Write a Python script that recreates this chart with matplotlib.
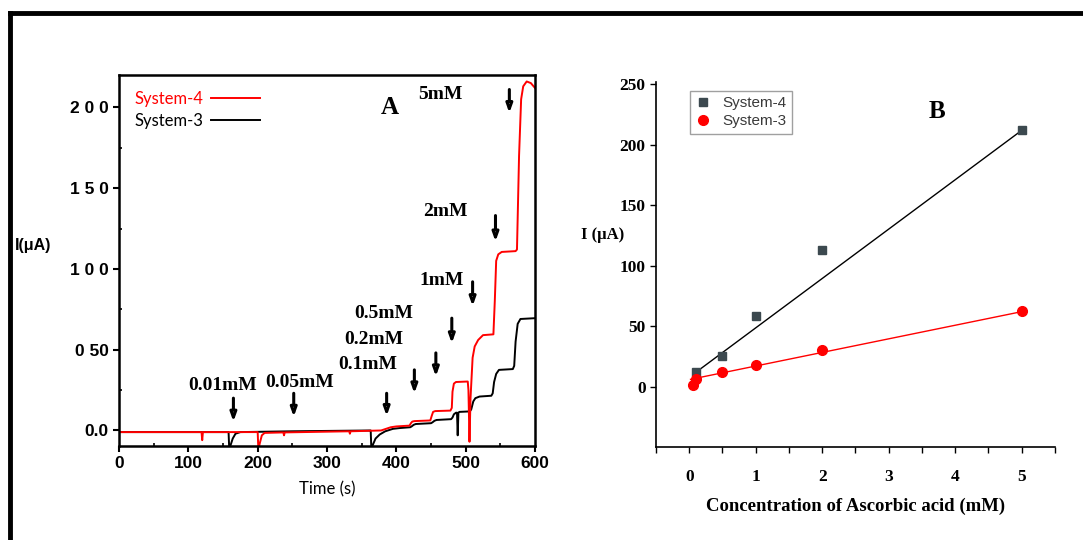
"""Amperometric response (A) and calibration plot (B) for System-3 / System-4."""
import matplotlib
matplotlib.use("Agg")
import matplotlib.pyplot as plt
from matplotlib.lines import Line2D
from matplotlib.ticker import MultipleLocator

# ---- panel A: current-time traces ----
red_t = [0, 119, 120, 121, 123, 200, 201, 203, 206, 210, 237, 238, 239, 332, 333, 334,
         378, 385, 392, 400, 419, 421, 423, 426, 449, 451, 453, 456, 478, 480, 481, 483,
         486, 503, 504, 505.5, 507, 510, 513, 518, 525, 540, 542, 544, 547, 552, 572,
         574, 577, 580, 583, 588, 594, 600]
red_i = [-1, -1, -6, -1, -1, -1, -12, -8, -3, -1.5, -1.2, -3, -1.2, -0.5, -2, -0.5,
         0, 1, 2, 2.5, 3, 4.5, 5.5, 5.8, 6.2, 9, 11.5, 12, 12.3, 14, 24, 29,
         30, 30.3, 25, -7, 20, 45, 52, 56, 59, 59.5, 80, 105, 109, 110.5, 111,
         112, 170, 205, 213, 216, 215, 212]

black_t = [0, 158, 159, 161, 164, 168, 175, 250, 362, 363, 364, 366, 370, 376, 384, 395,
           405, 420, 422, 425, 428, 450, 452, 455, 458, 479, 481, 483, 486, 487.5, 488.5,
           489.5, 491, 506, 508, 511, 514, 520, 537, 539, 541, 544, 548, 568, 570, 572,
           575, 579, 600]
black_i = [-1, -1, -12, -9, -5, -2, -1, -0.5, 0, 0, -12, -9, -5, -2.5, -0.5, 1,
           1.5, 2, 2.5, 3.5, 4, 4.5, 5, 6, 6.5, 7, 8, 10, 11, 11, -3,
           11, 11.5, 11.8, 13, 18, 20, 21, 21.5, 23, 30, 35, 37.5, 38, 40, 55,
           66, 69, 69.5]

# additions: label text, label position, arrow position
add_labels = ["0.01mM", "0.05mM", "0.1mM", "0.2mM", "0.5mM", "1mM", "2mM", "5mM"]
label_t = [150, 260, 359, 367, 382, 466, 471, 464]
label_i = [27.7, 29.7, 40.7, 56, 72.7, 92.9, 135.6, 207.8]
arrow_t = [165, 252, 386, 426, 457, 480, 510, 543, 563]
arrow_top = [20, 23, 23, 37.5, 48, 69.5, 92, 133, 211]
arrow_bot = [5.5, 8.5, 9, 23, 33.5, 54, 77, 117, 196.5]

a_yticks = [0, 50, 100, 150, 200]
a_yticklabels = ["0.0", "0 50", "1 0 0", "1 5 0", "2 0 0"]

# ---- panel B: calibration points ----
conc4 = [0.1, 0.5, 1, 2, 5]
sys4 = [12.4, 25.4, 58.8, 112.7, 212.7]
conc3 = [0.05, 0.1, 0.5, 1, 2, 5]
sys3 = [1.5, 6.1, 12.4, 18.0, 30.4, 62.2]
fit4_x = [0.08, 5.0]
fit4_y = [11.0, 212.0]
fit3_x = [0.02, 5.0]
fit3_y = [6.0, 62.0]

fig = plt.figure(figsize=(10.83, 5.4), dpi=100)

# outer frame (top and left edge only, like the source)
fig.add_artist(Line2D([0.0092, 0.0092], [0.0, 0.9759], transform=fig.transFigure,
                      color="black", lw=3.5, solid_capstyle="projecting"))
fig.add_artist(Line2D([0.0092, 1.0], [0.9759, 0.9759], transform=fig.transFigure,
                      color="black", lw=3.5, solid_capstyle="projecting"))

sans_bold = dict(family="Liberation Sans", weight="bold")
serif_bold = dict(family="Liberation Serif", weight="bold")

# ================= panel A =================
ax = fig.add_axes([0.1099, 0.1741, 0.3841, 0.687])
ax.plot(black_t, black_i, color="black", lw=1.4, label="System-3")
ax.plot(red_t, red_i, color="#ff0000", lw=1.4, label="System-4")
ax.set_xlim(0, 600)
ax.set_ylim(-9.6, 220)
ax.set_xticks(range(0, 601, 100))
ax.xaxis.set_minor_locator(MultipleLocator(50))
ax.yaxis.set_minor_locator(MultipleLocator(25))
ax.set_yticks(a_yticks)
ax.set_yticklabels(a_yticklabels)
ax.tick_params(axis="both", which="major", direction="out", length=4, width=1.5,
               labelsize=12.5)
ax.tick_params(axis="both", which="minor", direction="in", length=2.5, width=1.2)
for lab in ax.get_xticklabels() + ax.get_yticklabels():
    lab.set_fontfamily("Liberation Sans")
    lab.set_fontweight("bold")
for sp in ax.spines.values():
    sp.set_linewidth(1.8)
ax.set_xlabel("Time (s)", family="Lato", fontsize=12, labelpad=7)
fig.text(0.0305, 0.546, "I(μA)", fontsize=11.5, ha="center", va="center", **sans_bold)

for txt, x, y in zip(add_labels, label_t, label_i):
    ax.text(x, y, txt, ha="center", va="center", fontsize=14, **serif_bold)
for x, y0, y1 in zip(arrow_t, arrow_top, arrow_bot):
    ax.annotate("", xy=(x, y1), xytext=(x, y0),
                arrowprops=dict(arrowstyle="-|>,head_length=0.5,head_width=0.18",
                                lw=2.2, ec="black", fc="white", shrinkA=0, shrinkB=0))
ax.text(390, 199.6, "A", ha="center", va="center", fontsize=18, **serif_bold)

h, l = ax.get_legend_handles_labels()
leg = ax.legend(h[::-1], l[::-1], loc="upper left", bbox_to_anchor=(0.02, 0.975),
                frameon=False, markerfirst=False, handlelength=2.9, handletextpad=0.5,
                labelspacing=0.35, prop=dict(family="Lato", size=12),
                labelcolor="linecolor", borderaxespad=0)

# ================= panel B =================
bx = fig.add_axes([0.6057, 0.1722, 0.3684, 0.6759])
bx.plot(fit4_x, fit4_y, color="black", lw=1.0)
bx.plot(fit3_x, fit3_y, color="#ff0000", lw=1.0)
bx.plot(conc4, sys4, ls="none", marker="s", ms=6, color="#3c494f", label="System-4")
bx.plot(conc3, sys3, ls="none", marker="o", ms=7, color="#ff0000", label="System-3")
bx.set_xlim(-0.5, 5.5)
bx.set_ylim(-50, 252)
bx.set_xticks(range(0, 6))
bx.xaxis.set_minor_locator(MultipleLocator(0.5))
bx.set_yticks(range(0, 251, 50))
bx.spines["top"].set_visible(False)
bx.spines["right"].set_visible(False)
for sp in ("left", "bottom"):
    bx.spines[sp].set_linewidth(1.2)
bx.tick_params(axis="both", which="major", direction="out", length=4, width=1.0,
               labelsize=12.5)
bx.tick_params(axis="x", which="major", pad=12)
bx.tick_params(axis="x", which="minor", direction="out", length=4, width=1.0)
for lab in bx.get_xticklabels() + bx.get_yticklabels():
    lab.set_fontfamily("Liberation Serif")
    lab.set_fontweight("bold")
bx.set_xlabel("Concentration of Ascorbic acid (mM)", fontsize=13.5, labelpad=9,
              **serif_bold)
fig.text(0.556, 0.565, "I (μA)", fontsize=12, ha="center", va="center", **serif_bold)
bx.text(3.73, 227.5, "B", ha="center", va="center", fontsize=18, **serif_bold)
lg = bx.legend(loc="upper left", bbox_to_anchor=(0.085, 0.975), borderaxespad=0,
               fancybox=False, edgecolor="#a0a0a0", framealpha=1, handlelength=1.0,
               handletextpad=0.8, labelspacing=0.25, borderpad=0.35,
               prop=dict(family="Liberation Sans", size=11))
for t in lg.get_texts():
    t.set_color("#3a3a3a")

fig.savefig("out.png", dpi=100)
